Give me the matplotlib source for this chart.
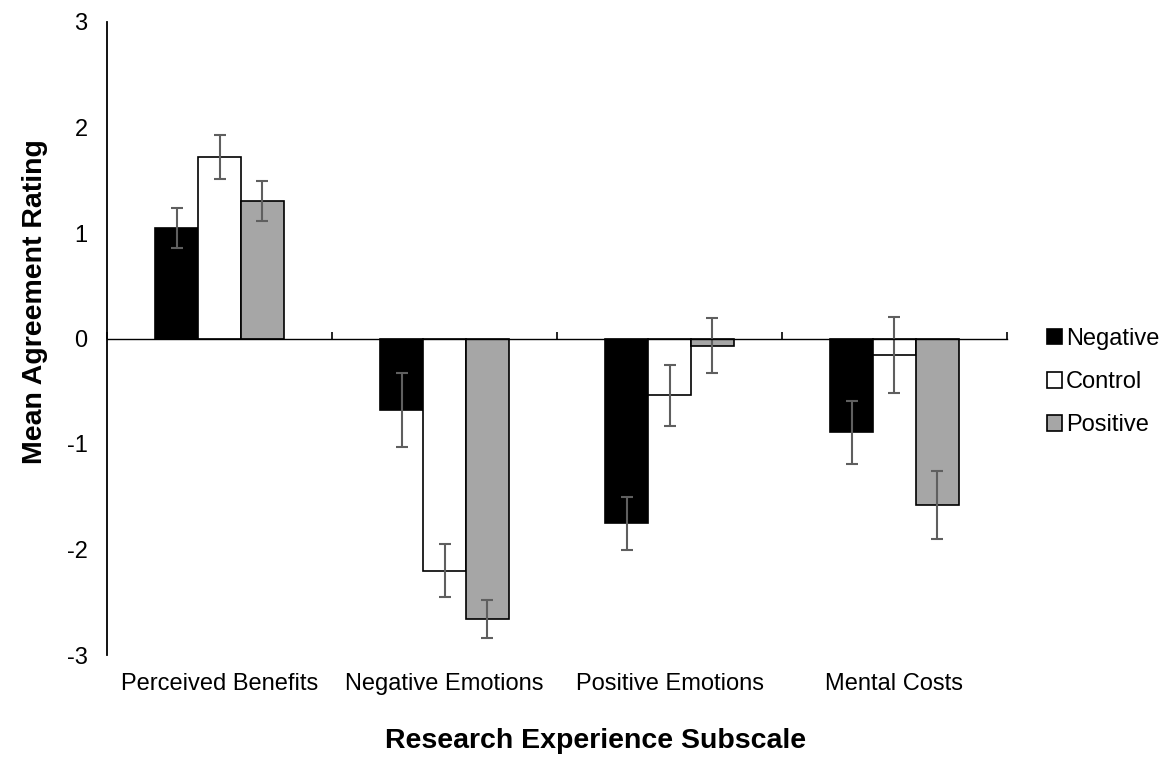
import matplotlib
matplotlib.use("Agg")
import matplotlib.pyplot as plt
import numpy as np

plt.rcParams['font.family'] = ['Liberation Sans', 'DejaVu Sans']
plt.rcParams['axes.unicode_minus'] = False

# Subscales and group means / error bars
subscales = ["Perceived Benefits", "Negative Emotions", "Positive Emotions", "Mental Costs"]
groups = ["Negative", "Control", "Positive"]
neg_means = [1.05, -0.68, -1.75, -0.89]
ctl_means = [1.72, -2.20, -0.54, -0.16]
pos_means = [1.30, -2.66, -0.07, -1.58]
neg_err = [0.19, 0.35, 0.25, 0.30]
ctl_err = [0.21, 0.25, 0.29, 0.36]
pos_err = [0.19, 0.18, 0.26, 0.32]
y_ticks = [-3, -2, -1, 0, 1, 2, 3]

means = [neg_means, ctl_means, pos_means]
errs = [neg_err, ctl_err, pos_err]
fills = ["#000000", "#ffffff", "#a6a6a6"]

fig = plt.figure(figsize=(11.69, 7.60), dpi=100)
ax = fig.add_axes([107 / 1169, 1 - 655 / 760, 900 / 1169, 633 / 760])

x = np.arange(len(subscales))
width = 0.19
offsets = [-width, 0, width]
for g, name in enumerate(groups):
    ax.bar(x + offsets[g], means[g], width=width, color=fills[g],
           edgecolor="black", linewidth=1.2, label=name,
           yerr=errs[g], ecolor="#5f5f5f",
           error_kw=dict(elinewidth=1.5, capsize=4.3, capthick=1.5),
           zorder=2)

ax.set_xlim(-0.5, len(subscales) - 0.5)
ax.set_ylim(-3, 3)
ax.set_yticks(y_ticks)
ax.set_yticklabels([str(t) for t in y_ticks], fontsize=17)
ax.tick_params(axis='y', length=0, pad=14)

# zero line as the category axis with upward boundary ticks
for s in ["top", "right"]:
    ax.spines[s].set_visible(False)
ax.spines["bottom"].set_position(("data", 0))
ax.spines["bottom"].set_linewidth(1.0)
ax.spines["left"].set_linewidth(1.3)
ax.set_xticks(np.arange(-0.5, len(subscales), 1.0))
ax.tick_params(axis='x', direction='in', length=5, width=1.2, labelbottom=False)

for i, name in enumerate(subscales):
    ax.annotate(name, xy=(i, 0), xycoords=('data', 'axes fraction'),
                xytext=(0, -13), textcoords='offset points',
                ha='center', va='top', fontsize=17)

fig.text(596 / 1169, 1 - 748 / 760, "Research Experience Subscale",
         ha='center', va='baseline', fontsize=20.5, fontweight='bold')
fig.text(35 / 1169, 1 - 302 / 760, "Mean Agreement Rating", rotation=90,
         ha='center', va='center', fontsize=20.5, fontweight='bold')

fig.legend(loc='center left', bbox_to_anchor=(1047 / 1169, 1 - 382 / 760),
           frameon=False, fontsize=17, handlelength=0.64, handleheight=0.64,
           handletextpad=0.17, labelspacing=0.90, borderpad=0, borderaxespad=0)

fig.savefig("out.png", dpi=100)
